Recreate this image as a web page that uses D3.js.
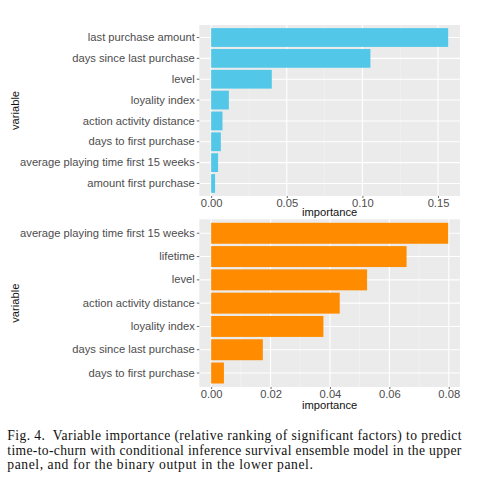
<!DOCTYPE html>
<html><head><meta charset="utf-8">
<script src="https://cdn.jsdelivr.net/npm/d3@7"></script>
<style>
html,body{margin:0;padding:0;background:#fff;}
svg{display:block;}
</style></head>
<body>
<svg id="chart" width="478" height="495"></svg>
<script>
// ---- data ----
const topVariables = ["last purchase amount","days since last purchase","level","loyality index","action activity distance","days to first purchase","average playing time first 15 weeks","amount first purchase"];
const topImportance = [0.1567,0.1053,0.0401,0.0117,0.0075,0.0064,0.0046,0.0026];
const topTicks = [0,0.05,0.10,0.15];
const topMinor = [0.025,0.075,0.125];

const bottomVariables = ["average playing time first 15 weeks","lifetime","level","action activity distance","loyality index","days since last purchase","days to first purchase"];
const bottomImportance = [0.0798,0.0658,0.0525,0.0433,0.0378,0.0174,0.0043];
const bottomTicks = [0,0.02,0.04,0.06,0.08];
const bottomMinor = [0.01,0.03,0.05,0.07];

const captionLines = [
  "Fig. 4.  Variable importance (relative ranking of significant factors) to predict",
  "time-to-churn with conditional inference survival ensemble model in the upper",
  "panel, and for the binary output in the lower panel."
];
const captionWidths = [454.3, 454.0, 305.5];

const svg = d3.select("#chart");
const sans = "'Liberation Sans', Arial, sans-serif";

function panel(opts){
  const {vars, vals, ticks, minor, color, x0, x1, y0, y1, titleGap} = opts;
  const g = svg.append("g");
  const max = d3.max(vals);
  const x = d3.scaleLinear().domain([-0.05*max, 1.05*max]).range([x0, x1]);
  const y = d3.scaleBand().domain(vars).range([y0, y1]).paddingInner(0.1).paddingOuter(0.15);

  g.append("rect").attr("x", x0).attr("y", y0).attr("width", x1-x0).attr("height", y1-y0).attr("fill", "#EBEBEB");
  g.selectAll(".minor").data(minor).join("line")
    .attr("x1", d=>x(d)).attr("x2", d=>x(d)).attr("y1", y0).attr("y2", y1)
    .attr("stroke", "#F5F5F5").attr("stroke-width", 0.6);
  g.selectAll(".vmaj").data(ticks).join("line")
    .attr("x1", d=>x(d)).attr("x2", d=>x(d)).attr("y1", y0).attr("y2", y1)
    .attr("stroke", "#FFFFFF").attr("stroke-width", 1.1);
  g.selectAll(".hmaj").data(vars).join("line")
    .attr("x1", x0).attr("x2", x1).attr("y1", d=>y(d)+y.bandwidth()/2).attr("y2", d=>y(d)+y.bandwidth()/2)
    .attr("stroke", "#FFFFFF").attr("stroke-width", 1.1);
  g.selectAll(".bar").data(vars).join("rect")
    .attr("x", x(0)).attr("y", d=>y(d))
    .attr("width", (d,i)=>x(vals[i])-x(0)).attr("height", y.bandwidth())
    .attr("fill", color);

  const ya = g.append("g").attr("transform", `translate(${x0},0)`)
    .call(d3.axisLeft(y).tickSize(2.5).tickPadding(2));
  ya.select(".domain").remove();
  ya.selectAll(".tick line").attr("stroke", "#444").attr("stroke-width", 0.8);
  ya.selectAll(".tick text").attr("font-family", sans).attr("font-size", 11.2).attr("fill", "#4D4D4D");

  const xa = g.append("g").attr("transform", `translate(0,${y1})`)
    .call(d3.axisBottom(x).tickValues(ticks).tickFormat(d3.format(".2f")).tickSize(2).tickPadding(1));
  xa.select(".domain").remove();
  xa.selectAll(".tick line").attr("stroke", "#444").attr("stroke-width", 0.8);
  xa.selectAll(".tick text").attr("font-family", sans).attr("font-size", 11.2).attr("fill", "#4D4D4D");

  g.append("text").attr("x", (x0+x1)/2).attr("y", y1+titleGap).attr("text-anchor", "middle")
    .attr("font-family", sans).attr("font-size", 11.2).attr("fill", "#111").text("importance");
  g.append("text").attr("transform", `translate(18.5,${(y0+y1)/2}) rotate(-90)`).attr("text-anchor", "middle")
    .attr("font-family", sans).attr("font-size", 11.2).attr("fill", "#111").text("variable");
}

panel({vars: topVariables, vals: topImportance, ticks: topTicks, minor: topMinor, color: "#52C7E8", x0: 199.3, x1: 460, y0: 25, y1: 196, titleGap: 20});
panel({vars: bottomVariables, vals: bottomImportance, ticks: bottomTicks, minor: bottomMinor, color: "#FF8C00", x0: 199.3, x1: 460, y0: 219.3, y1: 387, titleGap: 22});

const cap = svg.append("g");
captionLines.forEach((t,i)=>{
  cap.append("text").attr("x", 7.3).attr("y", 440 + i*14.6)
    .attr("font-family", "'Liberation Serif', 'Times New Roman', serif").attr("font-size", 13.6)
    .attr("fill", "#111").style("white-space", "pre")
    .attr("textLength", captionWidths[i]).attr("lengthAdjust", "spacing")
    .text(t);
});
</script>
</body></html>
